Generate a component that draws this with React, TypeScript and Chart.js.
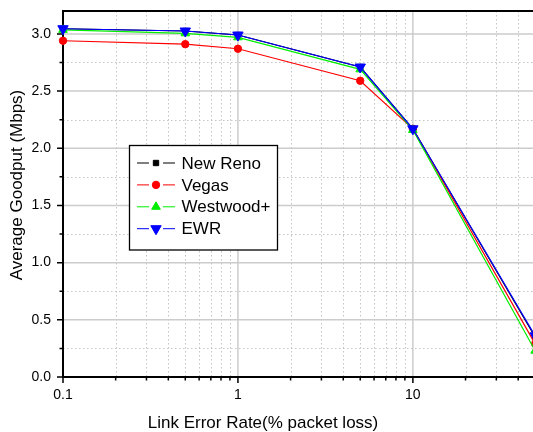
import React, { useEffect, useRef } from "react";
import { Chart, registerables } from "chart.js";
import { drawPoint } from "chart.js/helpers";

Chart.register(...registerables);

// ---- data ----
const lossRates = [0.1, 0.5, 1, 5, 10, 50];
const newReno = [3.045, 3.025, 2.99, 2.71, 2.17, 0.35];
const vegas = [2.94, 2.91, 2.87, 2.59, 2.17, 0.29];
const westwood = [3.035, 3.005, 2.97, 2.69, 2.16, 0.23];
const ewr = [3.045, 3.025, 2.99, 2.71, 2.17, 0.36];
const seriesNames = ["New Reno", "Vegas", "Westwood+", "EWR"];
const yTicks = [0, 0.5, 1, 1.5, 2, 2.5, 3];
const yMinorTicks = [0.25, 0.75, 1.25, 1.75, 2.25, 2.75];
const xMajorTicks = [0.1, 1, 10];
const xMinorTicks = [0.2, 0.3, 0.4, 0.5, 0.6, 0.7, 0.8, 0.9, 2, 3, 4, 5, 6, 7, 8, 9, 20, 30, 40, 50];
const xTitle = "Link Error Rate(% packet loss)";
const yTitle = "Average Goodput (Mbps)";

const FONT = "Arial, 'Liberation Sans', sans-serif";

const styles = [
  { color: "#000000", pointStyle: "rect", radius: 3.8, rotation: 0 },
  { color: "#ff0000", pointStyle: "circle", radius: 3.7, rotation: 0 },
  { color: "#00ee00", pointStyle: "triangle", radius: 5, rotation: 0 },
  { color: "#0000ff", pointStyle: "triangle", radius: 6, rotation: 180 },
];

const allSeries = [newReno, vegas, westwood, ewr];

const framePlugin = {
  id: "frame",
  beforeDatasetsDraw(chart: any) {
    const { ctx, chartArea: a, scales } = chart;
    const x = scales.x;
    const y = scales.y;
    ctx.save();
    // minor dotted grid
    ctx.lineWidth = 1;
    ctx.strokeStyle = "#c4c4c4";
    ctx.setLineDash([1.5, 2.5]);
    ctx.beginPath();
    for (const v of xMinorTicks) {
      const px = Math.round(x.getPixelForValue(v)) + 0.5;
      ctx.moveTo(px, a.top);
      ctx.lineTo(px, a.bottom);
    }
    for (const v of yMinorTicks) {
      const py = Math.round(y.getPixelForValue(v)) + 0.5;
      ctx.moveTo(a.left, py);
      ctx.lineTo(a.right, py);
    }
    ctx.stroke();
    // major solid grid
    ctx.setLineDash([]);
    ctx.strokeStyle = "#cccccc";
    ctx.lineWidth = 1.5;
    ctx.beginPath();
    for (const v of xMajorTicks) {
      const px = x.getPixelForValue(v);
      if (px <= a.left + 1) continue;
      ctx.moveTo(px, a.top);
      ctx.lineTo(px, a.bottom);
    }
    for (const v of yTicks) {
      const py = y.getPixelForValue(v);
      if (py >= a.bottom - 1) continue;
      ctx.moveTo(a.left, py);
      ctx.lineTo(a.right, py);
    }
    ctx.stroke();
    // axes
    ctx.strokeStyle = "#000";
    ctx.lineWidth = 2;
    ctx.beginPath();
    ctx.moveTo(a.left, a.top - 1);
    ctx.lineTo(a.left, a.bottom + 1);
    ctx.moveTo(a.left - 1, a.bottom);
    ctx.lineTo(a.right, a.bottom);
    ctx.moveTo(a.left - 1, a.top);
    ctx.lineTo(a.right, a.top);
    ctx.stroke();
    // tick marks
    ctx.lineWidth = 1.5;
    ctx.beginPath();
    for (const v of yTicks) {
      const py = y.getPixelForValue(v);
      ctx.moveTo(a.left - 6, py);
      ctx.lineTo(a.left, py);
    }
    for (const v of yMinorTicks) {
      const py = y.getPixelForValue(v);
      ctx.moveTo(a.left - 3.5, py);
      ctx.lineTo(a.left, py);
    }
    for (const v of xMajorTicks) {
      const px = x.getPixelForValue(v);
      ctx.moveTo(px, a.bottom);
      ctx.lineTo(px, a.bottom + 6);
    }
    for (const v of xMinorTicks) {
      const px = x.getPixelForValue(v);
      ctx.moveTo(px, a.bottom);
      ctx.lineTo(px, a.bottom + 3.5);
    }
    ctx.stroke();
    // axis titles
    ctx.fillStyle = "#000";
    ctx.font = `17px ${FONT}`;
    ctx.textAlign = "center";
    ctx.textBaseline = "alphabetic";
    ctx.fillText(xTitle, a.left + 200, 428);
    ctx.save();
    ctx.translate(17, 185);
    ctx.rotate(-Math.PI / 2);
    ctx.textBaseline = "middle";
    ctx.fillText(yTitle, 0, 0);
    ctx.restore();
    ctx.restore();
  },
  afterDatasetsDraw(chart: any) {
    const { ctx, chartArea: a } = chart;
    ctx.save();
    const bx = a.left + 66.5;
    const by = a.top + 134.5;
    const bw = 148;
    const bh = 104.5;
    ctx.fillStyle = "#fff";
    ctx.fillRect(bx, by, bw, bh);
    ctx.strokeStyle = "#000";
    ctx.lineWidth = 1.3;
    ctx.strokeRect(bx, by, bw, bh);
    ctx.font = `17px ${FONT}`;
    ctx.textBaseline = "middle";
    ctx.textAlign = "left";
    seriesNames.forEach((name, i) => {
      const s = styles[i];
      const cy = by + 17.5 + i * 21.9;
      const mx = bx + 26.5;
      ctx.strokeStyle = s.color;
      ctx.fillStyle = s.color;
      ctx.lineWidth = 1;
      ctx.beginPath();
      ctx.moveTo(mx - 19, cy);
      ctx.lineTo(mx - 7, cy);
      ctx.moveTo(mx + 7, cy);
      ctx.lineTo(mx + 19, cy);
      ctx.stroke();
      drawPoint(ctx, { pointStyle: s.pointStyle, radius: s.radius, rotation: s.rotation, borderWidth: 1 } as any, mx, cy);
      ctx.fillStyle = "#000";
      ctx.fillText(name, bx + 52, cy + 1);
    });
    ctx.restore();
  },
};

export default function App() {
  const canvasRef = useRef<HTMLCanvasElement | null>(null);

  useEffect(() => {
    const canvas = canvasRef.current;
    if (!canvas) return;
    const chart = new Chart(canvas, {
      type: "line",
      data: {
        datasets: allSeries.map((vals, i) => ({
          label: seriesNames[i],
          data: lossRates.map((r, j) => ({ x: r, y: vals[j] })),
          order: allSeries.length - 1 - i,
          borderColor: styles[i].color,
          backgroundColor: styles[i].color,
          borderWidth: 1.2,
          pointStyle: styles[i].pointStyle as any,
          pointRadius: styles[i].radius,
          pointRotation: styles[i].rotation,
          pointBorderWidth: 1,
          tension: 0,
          fill: false,
          clip: false as any,
        })),
      },
      options: {
        animation: false,
        responsive: false,
        devicePixelRatio: 1,
        layout: { padding: { left: 0, right: 11, top: 11, bottom: 0 } },
        plugins: { legend: { display: false }, tooltip: { enabled: false } },
        scales: {
          x: {
            type: "logarithmic",
            min: 0.1,
            max: 60,
            bounds: "data",
            afterBuildTicks: (s: any) => {
              s.ticks = xMajorTicks.map((v) => ({ value: v }));
            },
            afterFit: (s: any) => {
              s.height = 55;
              s.paddingLeft = 0;
              s.paddingRight = 0;
            },
            grid: { display: false, drawTicks: false },
            border: { display: false },
            ticks: {
              padding: 10,
              color: "#000",
              autoSkip: false,
              maxRotation: 0,
              font: { family: FONT, size: 14 },
              callback: (v: any) => String(v),
            },
          },
          y: {
            type: "linear",
            min: 0,
            max: 3.2,
            afterBuildTicks: (s: any) => {
              s.ticks = yTicks.map((v) => ({ value: v }));
            },
            afterFit: (s: any) => {
              s.width = 63;
              s.paddingTop = 0;
              s.paddingBottom = 0;
            },
            grid: { display: false, drawTicks: false },
            border: { display: false },
            ticks: {
              padding: 12,
              color: "#000",
              autoSkip: false,
              font: { family: FONT, size: 14 },
              callback: (v: any) => Number(v).toFixed(1),
            },
          },
        },
      },
      plugins: [framePlugin],
    });
    return () => chart.destroy();
  }, []);

  return (
    <div
      style={{
        position: "fixed",
        left: 0,
        top: 0,
        width: 533,
        height: 432,
        overflow: "hidden",
        background: "#fff",
      }}
    >
      <canvas ref={canvasRef} width={560} height={432} style={{ width: 560, height: 432, display: "block" }} />
    </div>
  );
}
